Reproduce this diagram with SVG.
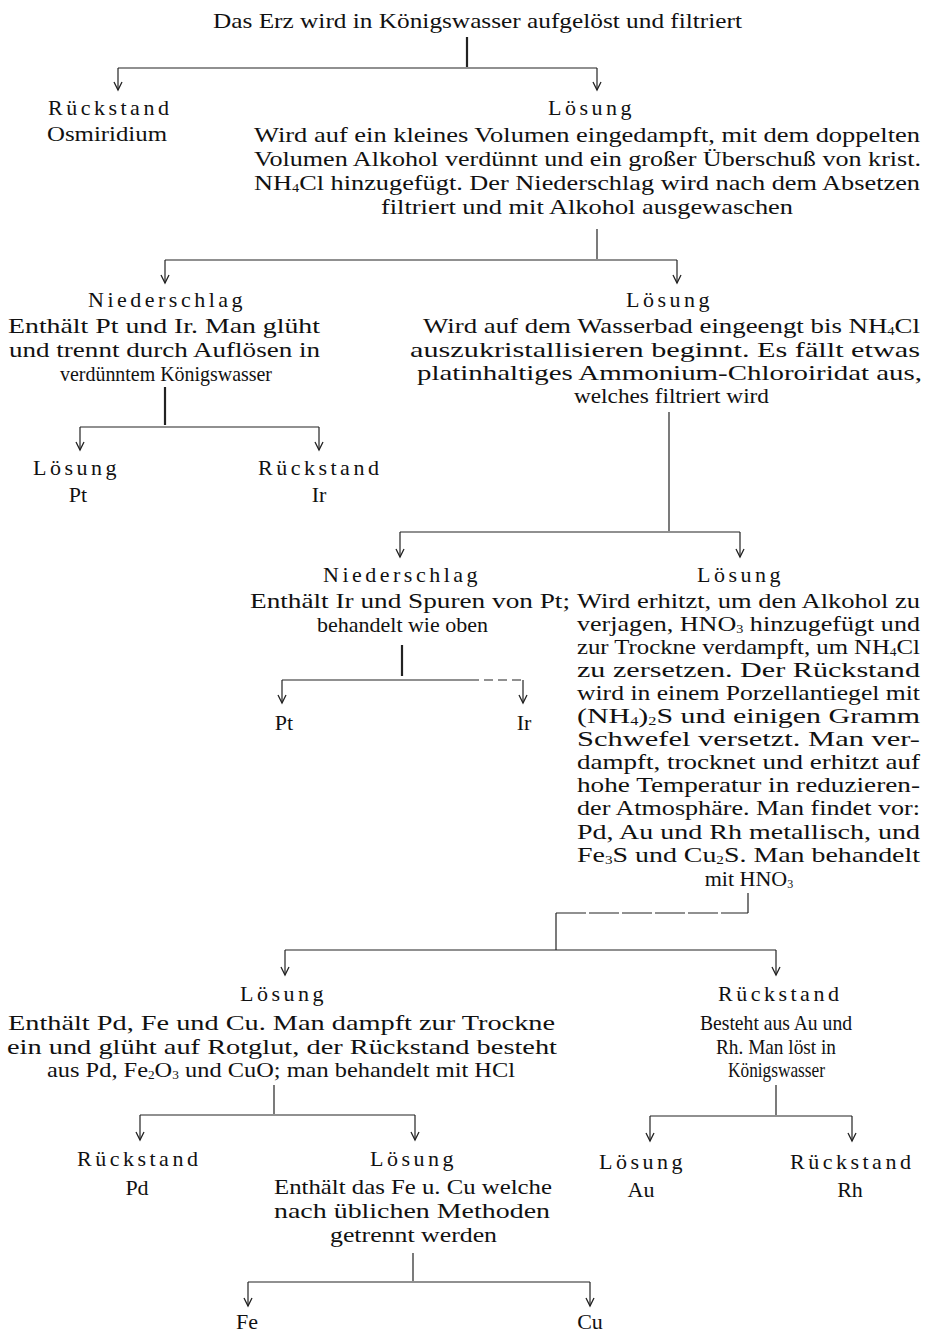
<svg xmlns="http://www.w3.org/2000/svg" width="925" height="1332" viewBox="0 0 925 1332">
  <defs>
    <style>
      text { font-family: "Liberation Serif", "DejaVu Serif", serif; font-size: 22px; fill: #111; }
      .h { font-size: 22px; letter-spacing: 3.5px; }
      .c { text-anchor: middle; }
      .sub { font-size: 12px; }
      .ln { stroke: #222; stroke-width: 1.2; fill: none; }
      .thick { stroke-width: 2.2; }
      .arr { stroke: #222; stroke-width: 1.2; fill: none; marker-end: url(#ah); }
    </style>
    <marker id="ah" markerUnits="userSpaceOnUse" markerWidth="12" markerHeight="12" refX="10" refY="6" orient="auto" viewBox="0 0 12 12">
      <path d="M2,2 L10,6 L2,10" fill="none" stroke="#222" stroke-width="1.3"/>
    </marker>
  </defs>

  <rect width="925" height="1332" fill="#fff"/>

  <!-- connectors -->
  <g id="connectors">
    <!-- ore -> residue / solution -->
    <line class="ln thick" x1="467" y1="37" x2="467" y2="67"/>
    <line class="ln" x1="118" y1="68" x2="597" y2="68"/>
    <line class="arr" x1="118" y1="68" x2="118" y2="90"/>
    <line class="arr" x1="597" y1="68" x2="597" y2="90"/>

    <!-- solution -> precipitate / solution -->
    <line class="ln" x1="597" y1="229" x2="597" y2="259"/>
    <line class="ln" x1="165" y1="260" x2="677" y2="260"/>
    <line class="arr" x1="165" y1="260" x2="165" y2="283"/>
    <line class="arr" x1="677" y1="260" x2="677" y2="283"/>

    <!-- Pt/Ir precipitate -> Pt / Ir -->
    <line class="ln thick" x1="165" y1="387" x2="165" y2="425"/>
    <line class="ln" x1="80" y1="427" x2="319" y2="427"/>
    <line class="arr" x1="80" y1="427" x2="80" y2="450"/>
    <line class="arr" x1="319" y1="427" x2="319" y2="450"/>

    <!-- filtrate -> precipitate / solution -->
    <line class="ln" x1="669" y1="412" x2="669" y2="531"/>
    <line class="ln" x1="400" y1="532" x2="740" y2="532"/>
    <line class="arr" x1="400" y1="532" x2="400" y2="557"/>
    <line class="arr" x1="740" y1="532" x2="740" y2="557"/>

    <!-- Ir precipitate -> Pt / Ir -->
    <line class="ln thick" x1="402" y1="645" x2="402" y2="676"/>
    <line class="ln" x1="282" y1="680" x2="470" y2="680"/>
    <line class="ln" x1="470" y1="680" x2="523" y2="680" stroke-dasharray="9,5"/>
    <line class="arr" x1="282" y1="680" x2="282" y2="703"/>
    <line class="arr" x1="523" y1="680" x2="523" y2="703"/>

    <!-- HNO3 treatment -> solution / residue -->
    <line class="ln" x1="748" y1="893" x2="748" y2="913"/>
    <line class="ln" x1="556" y1="913" x2="748" y2="913" stroke-dasharray="30,3"/>
    <line class="ln" x1="556" y1="913" x2="556" y2="950"/>
    <line class="ln" x1="285" y1="950" x2="776" y2="950"/>
    <line class="arr" x1="285" y1="950" x2="285" y2="975"/>
    <line class="arr" x1="776" y1="950" x2="776" y2="975"/>

    <!-- Pd/Fe/Cu solution -> residue / solution -->
    <line class="ln" x1="274" y1="1085" x2="274" y2="1114"/>
    <line class="ln" x1="140" y1="1115" x2="415" y2="1115"/>
    <line class="arr" x1="140" y1="1115" x2="140" y2="1140"/>
    <line class="arr" x1="415" y1="1115" x2="415" y2="1140"/>

    <!-- Au/Rh residue -> solution / residue -->
    <line class="ln" x1="776" y1="1085" x2="776" y2="1115"/>
    <line class="ln" x1="650" y1="1116" x2="852" y2="1116"/>
    <line class="arr" x1="650" y1="1116" x2="650" y2="1141"/>
    <line class="arr" x1="852" y1="1116" x2="852" y2="1141"/>

    <!-- Fe/Cu solution -> Fe / Cu -->
    <line class="ln" x1="413" y1="1253" x2="413" y2="1281"/>
    <line class="ln" x1="248" y1="1282" x2="590" y2="1282"/>
    <line class="arr" x1="248" y1="1282" x2="248" y2="1306"/>
    <line class="arr" x1="590" y1="1282" x2="590" y2="1306"/>
  </g>

  <!-- nodes -->
  <g id="n-ore">
    <text x="213" y="28" textLength="529" lengthAdjust="spacingAndGlyphs">Das Erz wird in Königswasser aufgelöst und filtriert</text>
  </g>

  <g id="n-osmiridium">
    <text class="h" x="48" y="115">Rückstand</text>
    <text x="47" y="141" textLength="120" lengthAdjust="spacingAndGlyphs">Osmiridium</text>
  </g>

  <g id="n-solution1">
    <text class="h" x="548" y="115">Lösung</text>
    <text x="254" y="142" textLength="666" lengthAdjust="spacingAndGlyphs">Wird auf ein kleines Volumen eingedampft, mit dem doppelten</text>
    <text x="254" y="166" textLength="667" lengthAdjust="spacingAndGlyphs">Volumen Alkohol verdünnt und ein großer Überschuß von krist.</text>
    <text x="254" y="190" textLength="666" lengthAdjust="spacingAndGlyphs">NH<tspan class="sub" dy="2">4</tspan><tspan dy="-2">Cl hinzugefügt.  Der Niederschlag wird nach dem Absetzen</tspan></text>
    <text x="381" y="214" textLength="412" lengthAdjust="spacingAndGlyphs">filtriert und mit Alkohol ausgewaschen</text>
  </g>

  <g id="n-precipitate1">
    <text class="h" x="88" y="307">Niederschlag</text>
    <text x="8" y="333" textLength="312" lengthAdjust="spacingAndGlyphs">Enthält Pt und Ir.  Man glüht</text>
    <text x="9" y="357" textLength="311" lengthAdjust="spacingAndGlyphs">und trennt durch Auflösen in</text>
    <text x="60" y="381" textLength="212" lengthAdjust="spacingAndGlyphs">verdünntem Königswasser</text>
  </g>

  <g id="n-solution2">
    <text class="h" x="626" y="307">Lösung</text>
    <text x="423" y="333" textLength="497" lengthAdjust="spacingAndGlyphs">Wird auf dem Wasserbad eingeengt bis NH<tspan class="sub" dy="2">4</tspan><tspan dy="-2">Cl</tspan></text>
    <text x="410" y="357" textLength="510" lengthAdjust="spacingAndGlyphs">auszukristallisieren beginnt. Es fällt etwas</text>
    <text x="417" y="380" textLength="505" lengthAdjust="spacingAndGlyphs">platinhaltiges Ammonium-Chloroiridat aus,</text>
    <text x="574" y="403" textLength="195" lengthAdjust="spacingAndGlyphs">welches filtriert wird</text>
  </g>

  <g id="n-pt1">
    <text class="h" x="33" y="475">Lösung</text>
    <text class="c" x="78" y="502">Pt</text>
  </g>

  <g id="n-ir1">
    <text class="h" x="258" y="475">Rückstand</text>
    <text class="c" x="319" y="502">Ir</text>
  </g>

  <g id="n-precipitate2">
    <text class="h" x="323" y="582">Niederschlag</text>
    <text x="250" y="608" textLength="320" lengthAdjust="spacingAndGlyphs">Enthält Ir und Spuren von Pt;</text>
    <text x="317" y="632" textLength="171" lengthAdjust="spacingAndGlyphs">behandelt wie oben</text>
  </g>

  <g id="n-pt2">
    <text class="c" x="284" y="730">Pt</text>
  </g>

  <g id="n-ir2">
    <text class="c" x="524" y="730">Ir</text>
  </g>

  <g id="n-solution3">
    <text class="h" x="697" y="582">Lösung</text>
    <text x="577" y="608" textLength="343" lengthAdjust="spacingAndGlyphs">Wird erhitzt, um den Alkohol zu</text>
    <text x="577" y="631" textLength="343" lengthAdjust="spacingAndGlyphs">verjagen, HNO<tspan class="sub" dy="2">3</tspan><tspan dy="-2"> hinzugefügt und</tspan></text>
    <text x="577" y="654" textLength="343" lengthAdjust="spacingAndGlyphs">zur Trockne verdampft, um NH<tspan class="sub" dy="2">4</tspan><tspan dy="-2">Cl</tspan></text>
    <text x="577" y="677" textLength="343" lengthAdjust="spacingAndGlyphs">zu zersetzen. Der Rückstand</text>
    <text x="577" y="700" textLength="343" lengthAdjust="spacingAndGlyphs">wird in einem Porzellantiegel mit</text>
    <text x="577" y="723" textLength="343" lengthAdjust="spacingAndGlyphs">(NH<tspan class="sub" dy="2">4</tspan><tspan dy="-2">)</tspan><tspan class="sub" dy="2">2</tspan><tspan dy="-2">S und einigen Gramm</tspan></text>
    <text x="577" y="746" textLength="343" lengthAdjust="spacingAndGlyphs">Schwefel versetzt. Man ver-</text>
    <text x="577" y="769" textLength="343" lengthAdjust="spacingAndGlyphs">dampft, trocknet und erhitzt auf</text>
    <text x="577" y="792" textLength="343" lengthAdjust="spacingAndGlyphs">hohe Temperatur in reduzieren-</text>
    <text x="577" y="815" textLength="343" lengthAdjust="spacingAndGlyphs">der Atmosphäre. Man findet vor:</text>
    <text x="577" y="839" textLength="343" lengthAdjust="spacingAndGlyphs">Pd, Au und Rh metallisch, und</text>
    <text x="577" y="862" textLength="343" lengthAdjust="spacingAndGlyphs">Fe<tspan class="sub" dy="2">3</tspan><tspan dy="-2">S und Cu</tspan><tspan class="sub" dy="2">2</tspan><tspan dy="-2">S.  Man behandelt</tspan></text>
    <text class="c" x="749" y="886">mit HNO<tspan class="sub" dy="2">3</tspan></text>
  </g>

  <g id="n-solution4">
    <text class="h" x="240" y="1001">Lösung</text>
    <text x="8" y="1030" textLength="547" lengthAdjust="spacingAndGlyphs">Enthält Pd, Fe und Cu.  Man dampft zur Trockne</text>
    <text x="7" y="1054" textLength="550" lengthAdjust="spacingAndGlyphs">ein und glüht auf Rotglut, der Rückstand besteht</text>
    <text x="47" y="1077" textLength="468" lengthAdjust="spacingAndGlyphs">aus Pd, Fe<tspan class="sub" dy="2">2</tspan><tspan dy="-2">O</tspan><tspan class="sub" dy="2">3</tspan><tspan dy="-2"> und CuO; man behandelt mit HCl</tspan></text>
  </g>

  <g id="n-residue4">
    <text class="h" x="718" y="1001">Rückstand</text>
    <text x="700" y="1030" textLength="152" lengthAdjust="spacingAndGlyphs">Besteht aus Au und</text>
    <text x="716" y="1054" textLength="120" lengthAdjust="spacingAndGlyphs">Rh.  Man löst in</text>
    <text x="728" y="1077" textLength="97" lengthAdjust="spacingAndGlyphs">Königswasser</text>
  </g>

  <g id="n-pd">
    <text class="h" x="77" y="1166">Rückstand</text>
    <text class="c" x="137" y="1195">Pd</text>
  </g>

  <g id="n-solution5">
    <text class="h" x="370" y="1166">Lösung</text>
    <text x="274" y="1194" textLength="278" lengthAdjust="spacingAndGlyphs">Enthält das Fe u. Cu welche</text>
    <text x="274" y="1218" textLength="276" lengthAdjust="spacingAndGlyphs">nach üblichen Methoden</text>
    <text x="330" y="1242" textLength="167" lengthAdjust="spacingAndGlyphs">getrennt werden</text>
  </g>

  <g id="n-au">
    <text class="h" x="599" y="1169">Lösung</text>
    <text class="c" x="641" y="1197">Au</text>
  </g>

  <g id="n-rh">
    <text class="h" x="790" y="1169">Rückstand</text>
    <text class="c" x="850" y="1197">Rh</text>
  </g>

  <g id="n-fe">
    <text class="c" x="247" y="1329">Fe</text>
  </g>

  <g id="n-cu">
    <text class="c" x="590" y="1329">Cu</text>
  </g>
</svg>
